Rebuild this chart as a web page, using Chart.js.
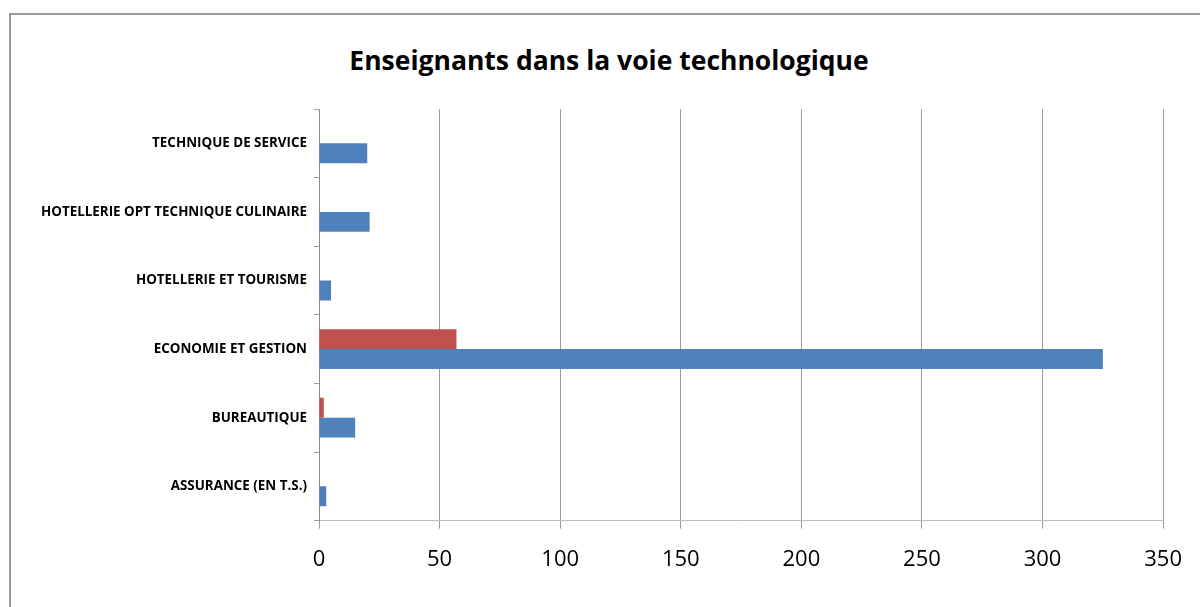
<!DOCTYPE html>
<html>
<head>
<meta charset="utf-8">
<script src="https://cdn.jsdelivr.net/npm/chart.js@4"></script>
<style>
  html, body { margin: 0; padding: 0; background: #fff; }
  body { width: 1200px; height: 607px; overflow: hidden; position: relative; }
  #frame {
    position: absolute; left: 9px; top: 13px; width: 1300px; height: 700px;
    border-left: 2px solid #9a9a9a; border-top: 2px solid #9a9a9a;
  }
  #title {
    position: absolute; left: 309px; top: 42px; width: 600px; text-align: center;
    font: bold 26.5px "Open Sans", sans-serif; color: #000; line-height: 36px;
  }
  #wrap { position: absolute; left: 18px; top: 0; width: 1182px; height: 607px; }
</style>
</head>
<body>
<div id="frame"></div>
<div id="title">Enseignants dans la voie technologique</div>
<div id="wrap"><canvas id="chart" width="1182" height="607"></canvas></div>
<script>
// categories listed top to bottom as they appear
const categories = [
  "TECHNIQUE DE SERVICE",
  "HOTELLERIE OPT TECHNIQUE CULINAIRE",
  "HOTELLERIE ET TOURISME",
  "ECONOMIE ET GESTION",
  "BUREAUTIQUE",
  "ASSURANCE (EN T.S.)"
];
const redValues = [0, 0, 0, 57, 2, 0];
const blueValues = [20, 21, 5, 325, 15, 3];
const xTicks = [0, 50, 100, 150, 200, 250, 300, 350];

document.addEventListener("DOMContentLoaded", () => {
  const ctx = document.getElementById("chart").getContext("2d");

  new Chart(ctx, {
    type: "bar",
    data: {
      labels: categories,
      datasets: [
        { data: redValues, backgroundColor: "#C0504D" },
        { data: blueValues, backgroundColor: "#4F81BD" }
      ]
    },
    options: {
      indexAxis: "y",
      responsive: false,
      animation: false,
      categoryPercentage: 0.58,
      barPercentage: 1,
      layout: { padding: { left: 0, right: 36, top: 109, bottom: 16 } },
      scales: {
        x: {
          min: 0,
          max: 350,
          afterBuildTicks: scale => { scale.ticks = xTicks.map(v => ({ value: v })); },
          ticks: {
            color: "#000",
            padding: 18,
            font: { family: "Open Sans", size: 22 }
          },
          grid: { color: "#9a9a9a", tickLength: 8 },
          border: { color: "#bdbdbd" }
        },
        y: {
          afterFit: scale => { scale.width = 301; },
          ticks: {
            color: "#000",
            padding: 7,
            font: { family: "Open Sans", size: 13.4, weight: "bold" }
          },
          grid: { drawOnChartArea: false, tickLength: 5, color: "#a0a0a0" },
          border: { color: "#8c8c8c" }
        }
      },
      plugins: {
        legend: { display: false },
        tooltip: { enabled: false }
      }
    }
  });
});
</script>
</body>
</html>
